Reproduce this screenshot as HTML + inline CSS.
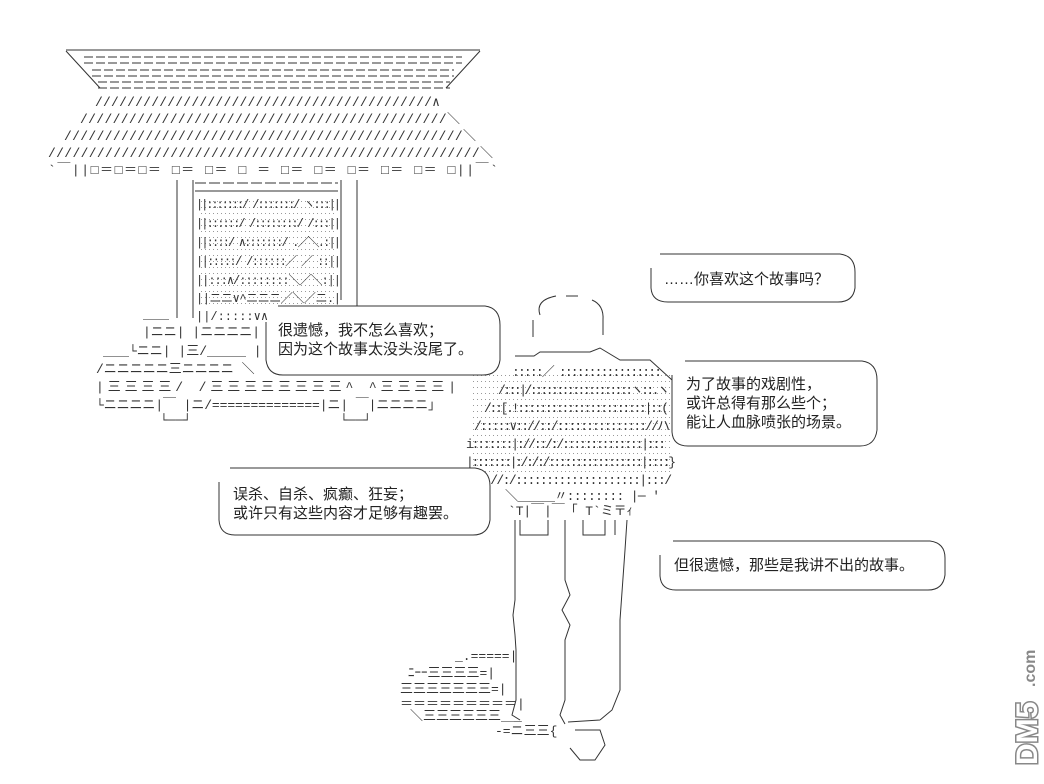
<!DOCTYPE html>
<html><head><meta charset="utf-8"><style>
body{margin:0;background:#fff;width:1044px;height:784px;overflow:hidden;position:relative}
.t{position:absolute;font-family:"Liberation Sans","Noto Sans CJK SC",sans-serif;font-size:15px;color:#222;line-height:19px;white-space:pre}
</style></head><body>
<svg width="1044" height="784" style="position:absolute;left:0;top:0" font-family="Liberation Mono, monospace" fill="none" stroke="#333" stroke-width="1">
<defs><pattern id="dots" width="4" height="6" patternUnits="userSpaceOnUse"><rect x="1" y="3" width="1" height="1" fill="#999" stroke="none"/></pattern></defs>
<!-- roof -->
<line x1="66" y1="50" x2="480" y2="50"/>
<line x1="66" y1="51" x2="100" y2="88"/><line x1="480" y1="51" x2="446" y2="88"/>
<g stroke-dasharray="9 3">
<line x1="84" y1="57" x2="462" y2="57"/><line x1="84" y1="63" x2="462" y2="63"/>
<line x1="92" y1="70" x2="454" y2="70"/><line x1="92" y1="76" x2="454" y2="76"/>
<line x1="98" y1="82" x2="450" y2="82"/><line x1="98" y1="88" x2="450" y2="88"/>
</g>
<g fill="#333" stroke="none" font-size="13">
<text x="95" y="106" textLength="345" lengthAdjust="spacing">//////////////////////////////////////////∧</text>
<text x="80" y="123" textLength="380" lengthAdjust="spacing">/////////////////////////////////////////////＼</text>
<text x="64" y="140" textLength="412" lengthAdjust="spacing">/////////////////////////////////////////////////＼</text>
<text x="48" y="157" textLength="445" lengthAdjust="spacing">/////////////////////////////////////////////////////＼</text>
<text x="48" y="174" textLength="450" lengthAdjust="spacing">`￣||□＝□＝□＝ □＝ □＝ □ ＝ □＝ □＝ □＝ □＝ □＝ □||￣`</text>
</g>
<!-- temple front -->
<line x1="177" y1="180" x2="177" y2="318"/><line x1="357" y1="180" x2="357" y2="318"/>
<line x1="193" y1="180" x2="193" y2="318"/><line x1="341" y1="180" x2="341" y2="300"/>
<line x1="195" y1="183" x2="338" y2="183" stroke-dasharray="11 3"/><line x1="195" y1="191" x2="338" y2="191"/>
<rect x="200" y="198" width="135" height="110" fill="url(#dots)" stroke="none"/>
<g fill="#333" stroke="none" font-size="12">
<text x="196" y="208" textLength="145">||:::::::/ /:::::::/ ヽ:::||</text>
<text x="196" y="227" textLength="145">||::::::/ /::::::::/  /:::||</text>
<text x="196" y="246" textLength="145">||::::/ ∧:::::::/ .／＼.:||</text>
<text x="196" y="265" textLength="145">||:::::/ /::::::／ ／ ::||</text>
<text x="196" y="284" textLength="145">||:::∧/::::::::＼／＼:||</text>
<text x="196" y="302" textLength="145">||ニニ∨^ニニニ／＼／ニ.|</text>
<text x="196" y="320">||/:::::∨∧.:f</text>
</g>
<!-- base -->
<g fill="#333" stroke="none" font-size="13">
<text x="143" y="318">＿＿</text>
<text x="143" y="336">|ニニ|  |ニニニニ|</text>
<text x="103" y="355">＿＿└ニニ|  |三/＿＿＿ |</text>
<text x="96" y="373">/ニニニニニ三ニニニニ  ＼</text>
<text x="96" y="391" textLength="360">|三三三三/   /三三三三三三三三^    ^三三三三|</text>
<text x="96" y="409" textLength="345">└ニニニニ|￣  |ニ/==============|ニ|  ￣|ニニニニ」</text>
<text x="160" y="424">└──┘</text><text x="340" y="424">└──┘</text>
</g>
<!-- figure head -->
<path d="M540 315 Q535 300 556 296 M566 296 L578 296 M592 300 Q604 305 603 320 L603 335 M533 320 L533 337"/>
<path d="M515 356 L534 356 L540 352 L590 352 L600 348 L620 360 L650 360 L672 380"/>
<rect x="470" y="372" width="200" height="102" fill="url(#dots)" stroke="none"/>
<g fill="#333" stroke="none" font-size="13">
<text x="512" y="376" textLength="150">:::::／ :::::::::::::::::</text>
<text x="498" y="394" textLength="172">/:::|/:::::::::::::::::::ヽ::.ヽ</text>
<text x="484" y="412" textLength="185">/::[.!:::::::::::::::::::::::|::(</text>
<text x="474" y="430" textLength="196">/:::::∨:://::/::::::::::::::://ハ</text>
<text x="466" y="448" textLength="200">i:::::::|://::/:/::::::::::::::|:::</text>
<text x="466" y="466" textLength="210">|:::::::|:/:/:/:::::::::::::::::|::::}</text>
<text x="484" y="484" textLength="188">.//:/::::::::::::::::::::|:::/</text>
<text x="505" y="500" textLength="155">＼＿＿＿〃:::::::: |─ '</text>
<text x="508" y="515" textLength="125">`T|￣|￣「 T`ミ〒ｨ</text>
</g>
<!-- legs -->
<path d="M515 520 L515 600 L513 615 L515 635 L516 650 L516 700 L512 715 L520 720"/>
<path d="M520 520 L520 535 L548 535 L548 520"/>
<path d="M565 520 L565 580 L570 595 L562 610 L570 625 L565 640 L565 700 L560 715 L565 724"/>
<path d="M583 520 L583 535 L605 535 L605 520 M615 520 L615 535"/>
<path d="M627 520 L625 550 L620 620 L620 690 L612 710 L600 720 M600 720 L568 722"/>
<path d="M575 730 L600 730 L605 745 L595 760 L580 760 L570 748"/>
<!-- hand -->
<g fill="#333" stroke="none" font-size="13">
<text x="455" y="660">_.=====|</text>
<text x="408" y="677">ﾆｰｰ三三三三=|</text>
<text x="400" y="693">三三三三三三三=|</text>
<text x="400" y="708">＝＝＝＝＝＝＝＝＝|</text>
<text x="410" y="720">＼三三三三三三＿_</text>
<text x="495" y="735">-=ニ三三{</text>
</g>
<!-- bubbles -->
<g fill="#fff">
<path d="M660 254 L840 254 Q855 256 855 272 L855 288 Q853 302 838 302 L668 302 Q652 302 651 288 L651 268"/>
<path d="M278 306 L485 306 Q500 308 500 325 L500 360 Q498 375 483 375 L283 375 Q268 375 266 360 L266 322"/>
<path d="M685 361 L862 361 Q877 363 877 380 L877 430 Q875 446 860 446 L688 446 Q673 446 672 432 L672 375"/>
<path d="M230 468 L475 468 Q490 470 490 486 L490 520 Q488 535 473 535 L235 535 Q220 535 219 520 L219 482"/>
<path d="M673 541 L930 541 Q945 543 945 558 L945 575 Q943 590 928 590 L676 590 Q661 590 660 576 L660 555"/>
</g>
<!-- watermark -->
<g transform="translate(1025,765) rotate(-90)"><text x="0" y="12" fill="#fff" stroke="#888" stroke-width="3" font-family="Liberation Sans" font-weight="bold" font-size="30" paint-order="stroke">DM5</text><text x="78" y="10" fill="#888" stroke="none" font-family="Liberation Sans" font-weight="bold" font-size="16">.com</text></g>
</svg>
<div class="t" style="left:664px;top:270px">……你喜欢这个故事吗？</div>
<div class="t" style="left:278px;top:321px">很遗憾，我不怎么喜欢；
因为这个故事太没头没尾了。</div>
<div class="t" style="left:686px;top:375px">为了故事的戏剧性，
或许总得有那么些个；
能让人血脉喷张的场景。</div>
<div class="t" style="left:233px;top:485px">误杀、自杀、疯癫、狂妄；
或许只有这些内容才足够有趣罢。</div>
<div class="t" style="left:674px;top:556px">但很遗憾，那些是我讲不出的故事。</div>
</body></html>
